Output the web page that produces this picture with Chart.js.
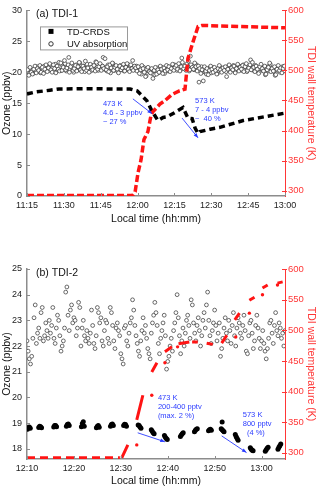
<!DOCTYPE html>
<html>
<head>
<meta charset="utf-8">
<title>TDI-1 / TDI-2 ozone</title>
<script src="https://cdn.jsdelivr.net/npm/chart.js@4.4.1/dist/chart.umd.min.js"></script>
<style>
  body { margin: 0; background: #fff; }
  #wrap { position: relative; width: 320px; height: 491px; }
  canvas { position: absolute; left: 0; }
  #chartA { top: 0; }
  #chartB { top: 245px; }
</style>
</head>
<body>
<div id="wrap">
  <canvas id="chartA" width="320" height="245"></canvas>
  <canvas id="chartB" width="320" height="246"></canvas>
</div>
<script>
// ---- panel (a) TDI-1 ----
const ticksTimeA = ['11:15', '11:30', '11:45', '12:00', '12:15', '12:30', '12:45', '13:00'];
const ticksOzoneA = [0, 5, 10, 15, 20, 25, 30];
const ticksTemp = [300, 350, 400, 450, 500, 550, 600];

// UV absorption, one reading every 15 s from 11:15, kept as two interleaved runs of 30 s
const uvStartA = '11:15';
const uvA = [
  19.6, 20.1, 19.9, 20.4, 20.2, 19.8, 20.6, 20.3, 20.9, 20.1, 20.5, 19.9, 20.7, 20.4, 21.0, 20.2, 20.6, 20.9, 20.3, 21.2,
  20.5, 20.8, 20.1, 21.3, 20.6, 20.4, 21.6, 20.9, 20.3, 21.0, 20.7, 21.4, 20.2, 20.8, 22.4, 20.5, 21.1, 20.6, 20.0, 20.9,
  21.2, 20.4, 20.8, 21.5, 20.3, 20.7, 21.0, 20.1, 20.6, 21.3, 20.5, 20.9, 20.2, 21.1, 20.6, 20.4, 21.7, 20.8, 20.3, 20.9,
  20.6, 21.0, 22.4, 20.5, 20.8, 20.2, 21.2, 20.7, 19.9, 20.6, 21.4, 20.3, 20.9, 20.5, 20.1, 20.8, 21.1, 20.4, 20.7, 20.2,
  20.9, 20.5, 21.3, 20.3, 20.8, 20.6, 21.9, 20.4, 20.9, 21.0, 20.5, 20.2, 20.7, 19.7, 20.4, 20.8, 20.1, 19.4, 20.6, 20.3,
  20.0, 20.5, 19.8, 20.3, 19.6, 20.2, 20.7, 19.9, 20.4, 20.1, 20.8, 20.3, 19.8, 20.6, 21.0, 20.2, 20.5, 20.9, 20.4, 20.7,
  21.2, 20.6, 20.3, 21.0, 20.8, 20.4, 22.3, 21.1, 20.7, 20.5, 21.3, 20.9, 20.2, 22.6, 20.6, 21.0, 20.4, 20.8, 21.2, 20.5,
  18.4, 20.3, 20.9, 20.1, 20.6, 20.0, 19.7, 20.5, 20.2, 20.8, 19.9, 20.4, 20.7, 20.1, 20.5, 19.8, 20.3, 20.9, 20.2, 20.6,
  20.4, 20.8, 20.1, 20.6, 21.0, 20.3, 20.7, 20.5, 21.1, 20.2, 20.9, 20.6, 20.4, 21.0, 20.7, 20.3, 21.2, 20.5, 20.8, 20.1,
  20.6, 20.9, 22.0, 20.4, 20.8, 20.2, 21.1, 20.5, 20.7, 20.0, 20.6, 21.0, 20.3, 20.8, 19.6, 20.5, 20.9, 20.2, 21.3, 20.4,
  20.7, 20.1, 19.5, 20.6, 20.3, 20.8, 20.0, 20.5, 20.9, 20.2, 20.6
];
const uvAMid = [
  20.4, 19.5, 20.8, 20.0, 19.7, 20.5, 21.0, 19.9, 20.6, 20.3, 21.1, 20.0, 20.8, 19.8, 20.5, 21.2, 20.1, 20.7, 21.4, 20.4,
  20.0, 21.2, 20.6, 19.9, 21.0, 20.5, 20.2, 21.5, 20.3, 20.8, 21.9, 20.4, 20.7, 21.2, 20.0, 20.9, 21.5, 20.3, 20.6, 21.1,
  20.2, 20.9, 21.6, 20.4, 20.1, 21.0, 20.6, 21.8, 20.3, 20.7, 20.0, 21.3, 20.8, 20.4, 21.1, 20.2, 21.6, 20.5, 20.9, 21.4,
  20.3, 21.0, 20.6, 22.2, 20.4, 20.9, 20.1, 21.2, 20.7, 21.5, 20.3, 20.8, 21.1, 20.5, 19.9, 21.0, 20.4, 20.7, 21.3, 20.2,
  20.8, 21.4, 20.5, 20.1, 21.2, 20.6, 20.3, 21.0, 20.7, 20.2, 20.9, 19.8, 20.4, 21.1, 20.6, 20.0, 19.3, 20.5, 20.8, 20.1,
  19.9, 20.6, 19.0, 20.3, 20.8, 19.7, 20.4, 20.0, 21.0, 20.5, 19.8, 20.7, 20.2, 21.1, 20.4, 20.9, 20.1, 20.6, 21.3, 20.3,
  20.8, 21.1, 20.5, 21.4, 20.2, 20.9, 21.6, 20.6, 21.0, 20.3, 20.7, 21.8, 20.4, 21.2, 20.8, 20.5, 21.5, 20.9, 20.2, 21.0,
  20.6, 19.8, 20.4, 18.6, 20.9, 20.2, 20.6, 19.6, 20.3, 21.0, 20.5, 20.0, 20.8, 20.3, 19.7, 20.6, 21.1, 20.4, 20.0, 20.7,
  20.3, 20.9, 19.3, 20.5, 21.2, 20.0, 20.7, 20.4, 21.0, 19.9, 20.6, 21.3, 20.2, 20.8, 20.5, 21.1, 20.1, 20.9, 21.4, 20.3,
  20.7, 21.2, 20.4, 21.6, 20.8, 20.1, 21.0, 20.5, 19.8, 20.9, 21.3, 20.6, 20.2, 21.0, 19.7, 20.4, 20.8, 21.5, 20.1, 20.6,
  20.2, 20.9, 19.6, 20.5, 21.1, 20.3, 20.7, 19.9, 20.6, 21.0
];

// TD-CRDS, minutes after 11:15
const crdsMinA = [0, 3.3, 9.4, 13, 25, 35, 42, 44.8, 48.8, 50.9, 53.3, 55.4, 57, 60.2, 63.5, 65.5, 67.2, 68.4, 69.6, 70.4, 74.5, 78.5, 88, 105];
const crdsA = [16.5, 16.8, 17.1, 17.3, 17.35, 17.3, 17.3, 17.0, 15.4, 13.7, 12.2, 12.7, 12.8, 13.5, 14.3, 12.6, 12.5, 11.0, 10.1, 10.4, 10.8, 11.1, 12.2, 13.4];

// TDI wall temperature (K), minutes after 11:15
const tempMinA = [0, 43, 44, 45.2, 46.4, 47.6, 49.2, 50.5, 51.2, 54.1, 56.2, 59.0, 62.0, 64.3, 65.5, 67.6, 69.6, 71.2, 105];
const tempA = [292, 292, 298, 330, 351, 385, 398, 426, 431, 444, 450, 460, 466, 469, 520, 548, 573, 575, 571];

// ---- panel (b) TDI-2 ----
const ticksTimeB = ['12:10', '12:20', '12:30', '12:40', '12:50', '13:00'];
const ticksOzoneB = [18, 19, 20, 21, 22, 23, 24, 25];

// UV absorption, one reading every 15 s starting 12:10
const uvStartB = '12:10';
const uvB = [
  22.2, 21.8, 21.5, 21.3, 21.6, 22.3, 23.1, 23.6, 22.1, 22.5, 22.7, 22.3, 23.3, 23.5, 22.2, 22.4, 22.9, 22.6, 22.3, 23.0,
  22.5, 22.8, 23.5, 22.3, 22.1, 22.7, 23.2, 23.0, 22.4, 21.8, 22.0, 22.2, 22.7, 24.1, 24.3, 23.2, 22.6, 23.4, 23.6, 22.9,
  23.1, 23.0, 22.4, 22.7, 23.7, 23.5, 22.0, 22.7, 23.0, 22.4, 22.2, 22.6, 22.3, 22.1, 22.5, 23.4, 22.8, 22.1, 21.9, 22.4,
  23.5, 23.3, 22.9, 23.1, 22.2, 22.0, 22.6, 23.0, 22.9, 22.3, 22.1, 23.5, 23.3, 22.8, 22.2, 21.9, 22.7, 22.9, 22.6, 22.4,
  21.7, 21.5, 21.3, 22.7, 22.8, 22.2, 22.0, 22.5, 22.9, 23.1, 23.8, 23.4, 22.8, 22.4, 22.1, 21.8, 21.6, 22.2, 22.6, 23.1,
  22.5, 22.8, 22.3, 21.9, 21.7, 21.5, 22.5, 22.9, 23.2, 23.7, 23.3, 22.8, 22.1, 21.7, 22.3, 22.6, 22.9, 23.2, 22.4, 21.1,
  21.4, 21.6, 22.0, 22.3, 21.8, 22.6, 22.9, 23.3, 24.0, 23.1, 22.4, 21.7, 22.2, 22.7, 22.0, 22.5, 23.0, 23.2, 22.8, 22.3,
  23.8, 23.6, 22.9, 22.5, 22.2, 22.8, 23.1, 22.6, 22.0, 22.4, 23.0, 23.3, 22.7, 23.6, 24.1, 23.0, 22.4, 22.1, 22.6, 22.9,
  23.4, 22.8, 22.2, 22.5, 22.9, 21.6, 21.9, 22.3, 22.7, 23.1, 22.5, 22.2, 23.0, 22.6, 22.1, 22.8, 23.3, 22.4, 22.0, 22.7,
  23.1, 22.9, 22.5, 22.3, 22.8, 23.2, 22.6, 21.8, 21.7, 22.4, 22.9, 23.0, 22.5, 21.9, 22.2, 22.8, 23.2, 22.7, 22.3, 21.9,
  22.2, 22.6, 22.1, 21.8, 21.5, 21.9, 22.3, 22.9, 23.0, 22.5, 22.1, 22.8, 23.3, 22.6, 22.4, 22.9, 22.7, 22.3, 22.5, 22.0, 22.6
];

// TD-CRDS bursts, minutes after 12:10
const crdsMinB = [
  0.1, 0.3, 0.5, 0.7, 2.5, 2.7, 2.9, 3.1, 5.7, 5.9, 6.1, 6.3, 8.4, 8.6, 8.8, 9.0,
  11.6, 11.8, 12.0, 12.2, 14.8, 15.0, 15.2, 15.4, 17.8, 18.0, 18.2, 18.4, 20.6, 20.8, 21.0, 21.2,
  23.7, 23.9, 24.1, 24.3, 26.5, 26.7, 26.9, 27.1, 29.3, 29.5, 29.7, 29.9, 32.7, 32.9, 33.1, 33.3,
  35.7, 35.9, 36.1, 36.3, 38.7, 38.9, 39.1, 39.3, 41.4, 41.6, 41.6, 41.8, 42.0, 44.4, 44.6, 44.8, 45.0,
  47.6, 47.8, 48.0, 48.2, 50.8, 51.0, 51.2, 51.4, 53.5, 53.7, 53.9, 54.1
];
const crdsB = [
  18.76, 18.82, 18.85, 18.80, 18.83, 18.88, 18.86, 18.82, 18.85, 18.90, 18.90, 18.86, 18.88, 18.94, 18.96, 18.90,
  18.86, 18.98, 19.05, 18.88, 18.82, 18.88, 18.90, 18.84, 18.88, 18.94, 18.96, 18.90, 18.90, 18.95, 18.94, 18.88,
  18.92, 18.90, 18.85, 18.80, 18.74, 18.68, 18.62, 18.58, 18.52, 18.45, 18.40, 18.36, 18.48, 18.53, 18.58, 18.62,
  18.66, 18.72, 18.76, 18.78, 18.70, 18.74, 18.76, 18.72, 18.78, 18.74, 19.04, 18.70, 18.66, 18.55, 18.47, 18.40, 18.33,
  18.04, 17.98, 17.94, 17.92, 17.90, 17.96, 18.02, 18.06, 17.98, 18.06, 18.12, 18.18
];

// TDI wall temperature (K), minutes after 12:10; null = no reading
const tempBaseMinB = [0, 19.8];
const tempBaseB = [292, 292];
const tempMinB = [20.2, 21.5, 21.5, 23.4, 24.7, 24.7, 26.6, 27.7, 27.7, 29.4, 30.9, 30.9, 32.3, 34.6, 34.6, 35.2, 36.4, 36.4,
  38.3, 39.6, 39.6, 41.5, 42.6, 42.6, 44.3, 45.3, 45.3, 47.4, 48.5, 48.5, 50.2, 51.3, 51.3, 53.4, 54.5];
const tempB = [292, 313, null, 354, 394, null, 432, 447, null, 465, 473, null, 478, 481, null, 481, 481, null,
  479, 477, null, 479, 492, null, 517, 528, null, 549, 554, null, 569, 574, null, 577, 579];
const tempDotMinB = [23.4, 26.6, 29.4, 32.1, 44.5, 47.4, 50.2, 53.4];
const tempDotB = [313, 394, 447, 473, 489, 528, 558, 574];

const FONT = '"Liberation Sans", Arial, Helvetica, sans-serif';
const RED = '#ff1414';
const RED_AXIS = '#ff3636';
const GREY_AXIS = '#8c8c8c';
const BLUE = '#2b3cff';

const toMin = s => { const [h, m] = s.split(':').map(Number); return h * 60 + m; };
const fmtTime = v => {
  const h = Math.floor(v / 60);
  const m = Math.round(v - h * 60);
  return h + ':' + String(m).padStart(2, '0');
};
const xy = (start, mins, vals) => mins.map((t, i) => ({x: toMin(start) + t, y: vals[i]}));
const series = (start, offset, step, vals) => vals.map((v, i) => ({x: toMin(start) + offset + i * step, y: v}));

function arrow(ctx, x1, y1, x2, y2) {
  const ang = Math.atan2(y2 - y1, x2 - x1);
  ctx.beginPath();
  ctx.moveTo(x1, y1);
  ctx.lineTo(x2, y2);
  ctx.stroke();
  ctx.beginPath();
  ctx.moveTo(x2, y2);
  ctx.lineTo(x2 - 5 * Math.cos(ang - 0.38), y2 - 5 * Math.sin(ang - 0.38));
  ctx.lineTo(x2 - 5 * Math.cos(ang + 0.38), y2 - 5 * Math.sin(ang + 0.38));
  ctx.closePath();
  ctx.fill();
}

// inward ticks, panel letter, annotations and legend box
function decor(cfg) {
  return {
    id: 'decor',
    afterDraw(chart) {
      const {ctx, chartArea: a, scales} = chart;
      const t0 = toMin(cfg.start);
      ctx.save();
      ctx.lineWidth = 1;
      ctx.strokeStyle = GREY_AXIS;
      scales.x.ticks.forEach(t => {
        const px = Math.round(scales.x.getPixelForValue(t.value)) + 0.5;
        ctx.beginPath(); ctx.moveTo(px, a.bottom); ctx.lineTo(px, a.bottom - 3); ctx.stroke();
      });
      scales.y.ticks.forEach(t => {
        const py = Math.round(scales.y.getPixelForValue(t.value)) + 0.5;
        ctx.beginPath(); ctx.moveTo(a.left, py); ctx.lineTo(a.left + 3, py); ctx.stroke();
      });
      ctx.strokeStyle = RED_AXIS;
      scales.y2.ticks.forEach(t => {
        const py = Math.round(scales.y2.getPixelForValue(t.value)) + 0.5;
        ctx.beginPath(); ctx.moveTo(a.right - 3, py); ctx.lineTo(a.right + 2, py); ctx.stroke();
      });

      ctx.fillStyle = '#111';
      ctx.textBaseline = 'middle';
      ctx.textAlign = 'left';
      ctx.font = '10.5px ' + FONT;
      ctx.fillText(cfg.label, a.left + 9, a.top + 4);

      ctx.fillStyle = BLUE;
      ctx.strokeStyle = BLUE;
      ctx.lineWidth = 0.9;
      ctx.font = '7.5px ' + FONT;
      cfg.notes.forEach(n => {
        const x = scales.x.getPixelForValue(t0 + n.at[0]);
        const y = scales.y.getPixelForValue(n.at[1]);
        n.lines.forEach((s, i) => ctx.fillText(s, x, y + i * 9));
        arrow(ctx,
          scales.x.getPixelForValue(t0 + n.from[0]), scales.y.getPixelForValue(n.from[1]),
          scales.x.getPixelForValue(t0 + n.to[0]), scales.y.getPixelForValue(n.to[1]));
      });

      if (cfg.legend) {
        const ds = chart.data.datasets;
        ctx.strokeStyle = '#9a9a9a';
        ctx.lineWidth = 1;
        ctx.strokeRect(a.left + 13.5, a.top + 16.5, 87, 23);
        ctx.fillStyle = '#000';
        ctx.fillRect(a.left + 21.5, a.top + 18.5, 5, 5);
        ctx.strokeStyle = '#333';
        ctx.beginPath(); ctx.arc(a.left + 24, a.top + 33.5, 2.2, 0, Math.PI * 2); ctx.stroke();
        ctx.fillStyle = '#111';
        ctx.font = '9.5px ' + FONT;
        ctx.fillText(ds[1].label, a.left + 40, a.top + 21.5);
        ctx.fillText(ds[ds.length - 1].label, a.left + 40, a.top + 34);
      }
      ctx.restore();
    }
  };
}

function axes(p) {
  const tickFont = {family: FONT, size: 9};
  const titleFont = {family: FONT, size: 10.5};
  return {
    x: {
      type: 'linear', min: toMin(p.xTicks[0]), max: p.xMax,
      afterBuildTicks: s => { s.ticks = p.xTicks.map(v => ({value: toMin(v)})); },
      ticks: {callback: v => fmtTime(v), font: tickFont, color: '#222', padding: 4, maxRotation: 0, autoSkip: false},
      grid: {drawOnChartArea: false, drawTicks: false},
      border: {color: GREY_AXIS, width: 1.5},
      title: {display: true, text: 'Local time (hh:mm)', font: titleFont, color: '#111', padding: {top: 0, bottom: p.xTitlePad}},
      afterFit: s => { s.height = p.xHeight; }
    },
    y: {
      position: 'left', min: p.yMin, max: p.yMax,
      afterBuildTicks: s => { s.ticks = p.yTicks.map(v => ({value: v})); },
      ticks: {font: tickFont, color: '#222', padding: 5, autoSkip: false},
      grid: {drawOnChartArea: false, drawTicks: false},
      border: {color: GREY_AXIS, width: 1.5},
      title: {display: true, text: 'Ozone (ppbv)', font: titleFont, color: '#111', padding: {top: 1, bottom: 0}},
      afterFit: s => { s.width = 27; }
    },
    y2: {
      position: 'right', min: p.tMin, max: 600,
      afterBuildTicks: s => { s.ticks = ticksTemp.map(v => ({value: v})); },
      ticks: {font: {family: FONT, size: 9.5}, color: RED_AXIS, padding: 3, autoSkip: false},
      grid: {drawOnChartArea: false, drawTicks: false},
      border: {color: RED_AXIS, width: 1},
      title: {display: true, text: 'TDI wall temperature (K)', font: titleFont, color: RED_AXIS, padding: {top: 2.5, bottom: 0}},
      afterFit: s => { s.width = 35; }
    }
  };
}

const baseOptions = {
  responsive: false,
  animation: false,
  events: [],
  plugins: {legend: {display: false}, tooltip: {enabled: false}}
};

const uvStyle = {yAxisID: 'y', pointRadius: 1.9, borderWidth: 0.75, borderColor: '#3a3a3a', backgroundColor: '#fff'};

new Chart(document.getElementById('chartA'), {
  type: 'scatter',
  data: {
    datasets: [
      {label: 'TDI wall temperature', data: xy(uvStartA, tempMinA, tempA), yAxisID: 'y2', showLine: true,
        borderColor: RED, borderWidth: 3.5, borderDash: [7, 3], pointRadius: 0},
      {label: 'TD-CRDS', data: xy(uvStartA, crdsMinA, crdsA), yAxisID: 'y', showLine: true,
        borderColor: '#000', borderWidth: 3.5, borderDash: [6, 4], pointRadius: 0},
      {label: 'UV absorption (mid)', data: series(uvStartA, 0.25, 0.5, uvAMid), ...uvStyle},
      {label: 'UV absorption', data: series(uvStartA, 0, 0.5, uvA), ...uvStyle}
    ]
  },
  options: {
    ...baseOptions,
    layout: {padding: {top: 5, left: 0, right: 0, bottom: 0}},
    scales: axes({xTicks: ticksTimeA, xMax: toMin('13:00'), xHeight: 49, xTitlePad: 19.5,
      yMin: 0, yMax: 30, yTicks: ticksOzoneA, tMin: 291})
  },
  plugins: [decor({
    start: '11:15', label: '(a) TDI-1', legend: true,
    notes: [
      {lines: ['473 K', '4.6 - 3 ppbv', '~ 27 %'], at: [30.9, 14.8], from: [43.1, 15.7], to: [50.9, 13.3]},
      {lines: ['573 K', '7 - 4 ppbv', '~  40 %'], at: [68.4, 15.4], from: [63.1, 12.6], to: [69.6, 9.4]}
    ]
  })]
});

new Chart(document.getElementById('chartB'), {
  type: 'scatter',
  data: {
    datasets: [
      {label: 'TDI wall temperature', data: xy(uvStartB, tempMinB, tempB), yAxisID: 'y2', showLine: true,
        borderColor: RED, borderWidth: 3, pointRadius: 0, spanGaps: false},
      {label: 'TD-CRDS', data: xy(uvStartB, crdsMinB, crdsB), yAxisID: 'y',
        pointStyle: 'circle', pointRadius: 2.5, borderWidth: 0, backgroundColor: '#000'},
      {label: 'TDI wall temperature base', data: xy(uvStartB, tempBaseMinB, tempBaseB), yAxisID: 'y2', showLine: true,
        borderColor: RED, borderWidth: 3, borderDash: [8, 5], pointRadius: 0},
      {label: 'TDI wall temperature spikes', data: xy(uvStartB, tempDotMinB, tempDotB), yAxisID: 'y2',
        pointRadius: 1.7, borderWidth: 0, backgroundColor: RED},
      {label: 'UV absorption', data: series(uvStartB, 0, 0.25, uvB), ...uvStyle}
    ]
  },
  options: {
    ...baseOptions,
    layout: {padding: {top: 24, left: 0, right: 0, bottom: 0}},
    scales: axes({xTicks: ticksTimeB, xMax: toMin('13:05'), xHeight: 32, xTitlePad: 3.5,
      yMin: 17.6, yMax: 25, yTicks: ticksOzoneB, tMin: 290})
  },
  plugins: [decor({
    start: '12:10', label: '(b) TDI-2', legend: false,
    notes: [
      {lines: ['473 K', '200-400 pptv', '(max. 2 %)'], at: [27.9, 19.97], from: [23.6, 18.62], to: [29.4, 18.27]},
      {lines: ['573 K', '800 pptv', '  (4 %)'], at: [46.0, 19.31], from: [41.5, 18.5], to: [46.8, 17.85]}
    ]
  })]
});
</script>
</body>
</html>
